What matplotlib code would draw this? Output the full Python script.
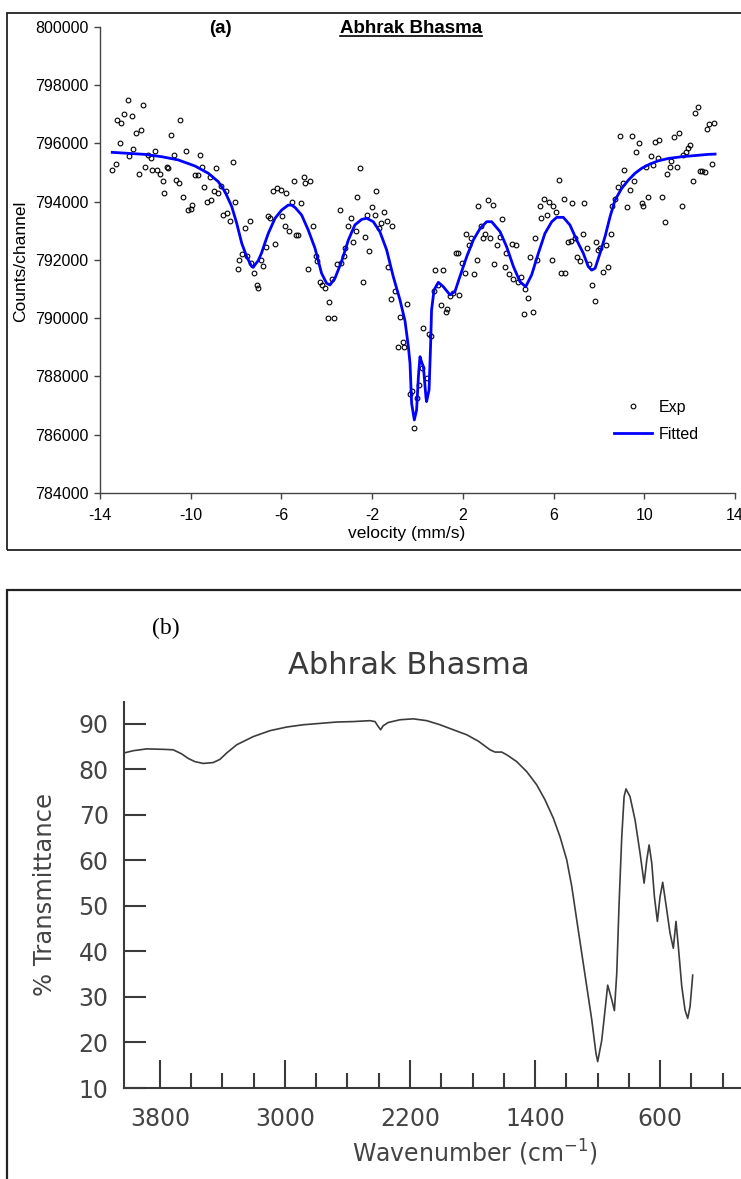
import matplotlib
matplotlib.use("Agg")
import matplotlib.pyplot as plt
from matplotlib.patches import Rectangle
from matplotlib.lines import Line2D
from matplotlib.ticker import FixedLocator

# -------- (a) Mossbauer spectrum: experimental points --------
vel_exp = [
    -13.46, -13.31, -13.25, -13.12, -13.06, -12.93, -12.78, -12.74, -12.60, -12.53,
    -12.41, -12.28, -12.21, -12.10, -12.02, -11.90, -11.77, -11.69, -11.58, -11.50,
    -11.37, -11.24, -11.18, -11.05, -10.99, -10.86, -10.72, -10.65, -10.53, -10.46,
    -10.33, -10.21, -10.14, -10.00, -9.94, -9.83, -9.68, -9.61, -9.49, -9.43,
    -9.30, -9.17, -9.11, -8.97, -8.90, -8.78, -8.65, -8.58, -8.45, -8.39,
    -8.25, -8.12, -8.05, -7.93, -7.87, -7.74, -7.61, -7.53, -7.40, -7.34,
    -7.21, -7.08, -7.02, -6.89, -6.81,
    -6.68, -6.58, -6.52, -6.36, -6.30, -6.18, -6.03, -5.98, -5.84, -5.78,
    -5.65, -5.52, -5.45, -5.34, -5.27, -5.14, -5.01, -4.95, -4.81, -4.74,
    -4.61, -4.49, -4.43, -4.29, -4.23, -4.09, -3.96, -3.90, -3.77, -3.70,
    -3.57, -3.43, -3.37, -3.24, -3.18, -3.05, -2.92, -2.86, -2.73, -2.67,
    -2.54, -2.40, -2.33, -2.21, -2.14, -2.02, -1.89, -1.83, -1.70, -1.63,
    -1.49, -1.36, -1.29, -1.17, -1.11, -0.98, -0.85, -0.79, -0.66, -0.60,
    -0.45, -0.33, -0.26, -0.14, -0.01, 0.07, 0.18, 0.24,
    0.40, 0.52, 0.59, 0.73, 0.79, 0.92, 1.05, 1.11, 1.24, 1.32,
    1.43, 1.57, 1.70, 1.77, 1.83, 1.95, 2.08, 2.14, 2.29, 2.34,
    2.48, 2.61, 2.67, 2.80, 2.87, 2.99, 3.12, 3.20, 3.31, 3.39,
    3.52, 3.65, 3.71, 3.84, 3.90, 4.03, 4.17, 4.23, 4.36, 4.42,
    4.55, 4.68, 4.74, 4.87, 4.95, 5.08, 5.20, 5.27, 5.40, 5.46,
    5.59, 5.72, 5.78, 5.92, 5.99, 6.12, 6.25, 6.31, 6.44, 6.50,
    6.64, 6.77, 6.83, 6.94, 7.02, 7.15, 7.28, 7.34,
    7.47, 7.55, 7.68, 7.81, 7.87, 7.97, 8.05, 8.19, 8.33, 8.38,
    8.52, 8.59, 8.72, 8.84, 8.91, 9.05, 9.10, 9.24, 9.37, 9.44,
    9.56, 9.63, 9.75, 9.88, 9.96, 10.07, 10.15, 10.28, 10.40, 10.47,
    10.60, 10.66, 10.80, 10.93, 10.99, 11.12, 11.19, 11.31, 11.44, 11.52,
    11.65, 11.71, 11.84, 11.93, 12.03, 12.16, 12.22, 12.35, 12.46, 12.53,
    12.66, 12.75, 12.87, 13.00, 13.07,
]
counts_exp = [
    795100, 795300, 796800, 796000, 796700, 797000, 797500, 795550, 796950, 795800,
    796350, 794950, 796450, 797300, 795200, 795600, 795500, 795100, 795750, 795100,
    794950, 794700, 794300, 795200, 795150, 796300, 795600, 794750, 794650, 796800,
    794150, 795750, 793700, 793750, 793900, 794900, 794900, 795600, 795200, 794500,
    794000, 794850, 794050, 794350, 795150, 794300, 794550, 793550, 794350, 793600,
    793350, 795350, 794000, 791700, 792000, 792200, 793100, 792150, 793350, 791900,
    791550, 791150, 791050, 792000, 791800,
    792450, 793500, 793450, 794350, 792550, 794450, 794400, 793500, 793150, 794300,
    793000, 794000, 794700, 792850, 792850, 793950, 794850, 794650, 791700, 794700,
    793150, 792150, 791950, 791250, 791150, 791050, 790000, 790550, 791350, 790000,
    791850, 793700, 791900, 792150, 792400, 793150, 793450, 792600, 793000, 794150,
    795150, 791250, 792800, 793550, 792300, 793800, 793550, 794350, 793100, 793250,
    793650, 793350, 791750, 790650, 793150, 790950, 789000, 790050, 789200, 789000,
    790500, 787400, 787500, 786250, 787250, 787700, 788300, 789650,
    787950, 789450, 789400, 790950, 791650, 791150, 790450, 791650, 790200, 790300,
    790750, 790850, 792250, 792250, 790800, 791900, 791550, 792900, 792500, 792750,
    791500, 792000, 793850, 793150, 792750, 792900, 794050, 792750, 793900, 791850,
    792500, 792800, 793400, 791750, 792250, 791500, 792550, 791350, 792500, 791250,
    791400, 790150, 791000, 790700, 792100, 790200, 792750, 792000, 793850, 793450,
    794100, 793550, 794000, 792000, 793850, 793650, 794750, 791550, 794100, 791550,
    792600, 792650, 793950, 792750, 792100, 791950, 792900, 793950,
    792400, 791850, 791150, 790600, 792600, 792350, 792400, 791600, 792500, 791750,
    792900, 793850, 794100, 794500, 796250, 794650, 795100, 793800, 794400, 796250,
    794700, 795700, 796000, 793950, 793850, 795200, 794150, 795550, 795250, 796050,
    795500, 796100, 794150, 793300, 794950, 795200, 795400, 796200, 795200, 796350,
    793850, 795600, 795700, 795850, 795950, 794700, 797050, 797250, 795050, 795050,
    795000, 796500, 796650, 795300, 796700,
]

# -------- (a) fitted curve --------
vel_fit = [
    -13.46, -12.75, -12.02, -11.28, -10.55, -9.81, -9.22, -8.78, -8.49, -8.19,
    -7.97, -7.75, -7.53, -7.31, -7.24, -7.17, -7.02, -6.87, -6.72, -6.58,
    -6.28, -5.99, -5.70, -5.55, -5.40, -5.11, -4.82, -4.52, -4.23, -4.01,
    -3.86, -3.64, -3.35, -3.05, -2.76, -2.46, -2.24, -1.95, -1.66, -1.36,
    -1.07, -0.77, -0.55, -0.40, -0.33, -0.26, -0.14, -0.04, 0.04, 0.11,
    0.18, 0.26, 0.37, 0.40, 0.51, 0.58, 0.62, 0.73, 0.92, 1.14,
    1.43, 1.65, 1.87, 2.17, 2.46, 2.76, 3.05, 3.27, 3.64, 3.93,
    4.23, 4.52, 4.77, 5.03, 5.33, 5.62, 5.92, 6.14, 6.43, 6.72,
    7.02, 7.31, 7.53, 7.68, 7.83, 8.05, 8.27, 8.49, 8.71, 9.00,
    9.30, 9.59, 9.88, 10.25, 10.62, 11.06, 11.65, 12.24, 12.82, 13.12,
]
counts_fit = [
    795690, 795655, 795620, 795540, 795430, 795220, 794970, 794680, 794340, 793830,
    793250, 792570, 792110, 791770, 791745, 791830, 791980, 792250, 792600, 792910,
    793430, 793710, 793880, 793880, 793800, 793540, 793030, 792400, 791540, 791200,
    791140, 791370, 791940, 792680, 793200, 793390, 793430, 793310, 792970, 792340,
    791430, 790620, 789900, 789000, 788450, 787080, 786510, 786850, 788000, 788680,
    788500, 788340, 787310, 787140, 787540, 789140, 790280, 790970, 791230, 791080,
    790800, 790910, 791430, 792110, 792680, 793080, 793310, 793310, 792970, 792450,
    791770, 791250, 791080, 791480, 792230, 792910, 793310, 793460, 793460, 793200,
    792680, 792230, 791770, 791650, 791710, 792230, 792800, 793480, 794050, 794450,
    794740, 794970, 795140, 795290, 795400, 795480, 795540, 795580, 795620, 795630,
]
vel_ticks = [-14, -10, -6, -2, 2, 6, 10, 14]
count_ticks = [784000, 786000, 788000, 790000, 792000, 794000, 796000, 798000, 800000]

# -------- (b) IR spectrum --------
ir_wavenumber = [
    4030, 3971, 3885, 3779, 3715, 3661, 3619, 3576, 3523, 3459,
    3416, 3373, 3309, 3203, 3096, 2989, 2883, 2776, 2669, 2563,
    2456, 2424, 2403, 2388, 2371, 2339, 2264, 2179, 2093, 2008,
    1923, 1837, 1763, 1688, 1656, 1613, 1581, 1517, 1453, 1389,
    1336, 1283, 1240, 1197, 1165, 1133, 1101, 1069, 1037, 1010,
    999, 973, 952, 935, 909, 892, 877, 862, 845, 830,
    818, 792, 760, 728, 702, 685, 670, 653, 636, 617,
    600, 583, 557, 536, 515, 498, 483, 461, 440, 423,
    408, 397, 391,
]
ir_transmittance = [
    83.6, 84.1, 84.5, 84.4, 84.3, 83.4, 82.4, 81.7, 81.3, 81.5,
    82.2, 83.6, 85.4, 87.2, 88.5, 89.3, 89.8, 90.1, 90.4, 90.5,
    90.7, 90.5, 89.4, 88.7, 89.6, 90.3, 90.9, 91.1, 90.7, 89.8,
    88.7, 87.6, 86.2, 84.3, 83.8, 83.8, 83.2, 81.7, 79.5, 76.6,
    73.3, 69.3, 65.2, 60.1, 54.3, 46.9, 39.6, 32.3, 25.0, 17.6,
    15.8, 20.5, 27.1, 32.6, 29.4, 27.0, 35.2, 50.6, 65.2, 74.0,
    75.7, 74.0, 68.9, 61.6, 55.0, 60.1, 63.4, 59.4, 52.0, 46.6,
    52.0, 55.2, 49.1, 44.0, 40.7, 46.6, 41.1, 32.3, 27.1, 25.3,
    27.9, 32.3, 34.8,
]
ir_major = [3800, 3000, 2200, 1400, 600]
ir_minor = [3600, 3400, 3200, 2800, 2600, 2400, 2000, 1800, 1600,
            1200, 1000, 800, 400, 200]
ir_yticks = [10, 20, 30, 40, 50, 60, 70, 80, 90]

# -------- figure layout (pixel helpers) --------
W, H, DPI = 741, 1179, 100


def fx(px):
    return px / W


def fy(py):
    return 1 - py / H


fig = plt.figure(figsize=(W / DPI, H / DPI), dpi=DPI)
fig.patch.set_facecolor("white")

# panel frames (right side runs off the page like the scan)
fig.add_artist(Rectangle((fx(7), fy(550)), 1.0, fy(13) - fy(550),
                         transform=fig.transFigure, fill=False,
                         lw=1.3, ec="#222222"))
fig.add_artist(Rectangle((fx(7), -0.05), 1.0, fy(590) + 0.05,
                         transform=fig.transFigure, fill=False,
                         lw=1.6, ec="#222222"))

# -------- panel (a) --------
sans = "Liberation Sans"
ax1 = fig.add_axes([fx(100), fy(493.1), fx(735) - fx(100), fy(26.7) - fy(493.1)])
ax1.plot(vel_exp, counts_exp, ls="none", marker="o", ms=3.4, mfc="none",
         mec="black", mew=0.8, label="Exp")
ax1.plot(vel_fit, counts_fit, color="#0000ff", lw=2.0, label="Fitted")
ax1.set_xlim(-14, 14)
ax1.set_ylim(784000, 800000)
ax1.set_xticks(vel_ticks)
ax1.set_yticks(count_ticks)
ax1.set_xticklabels([str(v) for v in vel_ticks], family=sans, fontsize=11.5)
ax1.set_yticklabels([str(c) for c in count_ticks], family=sans, fontsize=11.5)
for side in ("top", "right"):
    ax1.spines[side].set_visible(False)
for side in ("left", "bottom"):
    ax1.spines[side].set_color("#444444")
    ax1.spines[side].set_linewidth(1.0)
ax1.tick_params(axis="both", direction="out", length=4.3, width=1.0, color="#444444")
ax1.tick_params(axis="x", pad=6.5)
ax1.tick_params(axis="y", pad=4)
ax1.set_facecolor("none")

ax1.legend(frameon=False, loc="upper left", bbox_to_anchor=(fx(606), fy(392)),
           bbox_transform=fig.transFigure, borderpad=0, handlelength=2.4,
           handletextpad=0.4, labelspacing=0.75, numpoints=1,
           prop={"family": sans, "size": 11.5})

fig.text(fx(21), fy(261), "Counts/channel", rotation=90, ha="center", va="center",
         family=sans, fontsize=12.5)
fig.text(fx(407), fy(534), "velocity (mm/s)", ha="center", va="center",
         family=sans, fontsize=12.5)
fig.text(fx(220), fy(28.6), "(a)", ha="center", va="center", family=sans,
         fontsize=13.5, fontweight="bold")
title_a = fig.text(fx(411), fy(28.6), "Abhrak Bhasma", ha="center", va="center",
                   family=sans, fontsize=13.5, fontweight="bold")

# -------- panel (b) --------
ink = "#3a3a3a"
ax2 = fig.add_axes([fx(124), fy(1088), 1 - fx(124), fy(702) - fy(1088)])
ax2.plot(ir_wavenumber, ir_transmittance, color="#3c3c3c", lw=1.2,
         solid_joinstyle="round")
ax2.set_xlim(4030, 82)
ax2.set_ylim(10, 94.8)
for side in ("top", "right"):
    ax2.spines[side].set_visible(False)
for side in ("left", "bottom"):
    ax2.spines[side].set_color(ink)
    ax2.spines[side].set_linewidth(1.5)
ax2.xaxis.set_major_locator(FixedLocator(ir_major))
ax2.xaxis.set_minor_locator(FixedLocator(ir_minor))
ax2.yaxis.set_major_locator(FixedLocator(ir_yticks))
ax2.set_xticklabels([str(w) for w in ir_major])
ax2.set_yticklabels([str(t) for t in ir_yticks])
ax2.tick_params(axis="x", which="major", direction="in", length=20, width=1.5,
                color=ink, labelsize=17, labelcolor="#444444", pad=14)
ax2.tick_params(axis="x", which="minor", direction="in", length=11, width=1.5,
                color=ink)
ax2.tick_params(axis="y", direction="in", length=16, width=1.5, color=ink,
                labelsize=17, labelcolor="#444444", pad=11)
ax2.set_facecolor("none")

fig.text(fx(45), fy(895), "% Transmittance", rotation=90, ha="center", va="center",
         fontsize=17.5, color="#444444")
fig.text(fx(409), fy(665), "Abhrak Bhasma", ha="center", va="center",
         fontsize=22, color=ink)
fig.text(fx(475), fy(1153), "Wavenumber (cm$^{-1}$)", ha="center", va="center",
         fontsize=17, color="#444444")
fig.text(fx(166), fy(628), "(b)", ha="center", va="center",
         family="Liberation Serif", fontsize=17)

# underline for the panel (a) title
fig.canvas.draw()
bb = title_a.get_window_extent()
uy = (bb.y0 + 1.5) / H
fig.add_artist(Line2D([bb.x0 / W, bb.x1 / W], [uy, uy], transform=fig.transFigure,
                      color="black", lw=1.2))

fig.savefig("out.png", dpi=DPI)
